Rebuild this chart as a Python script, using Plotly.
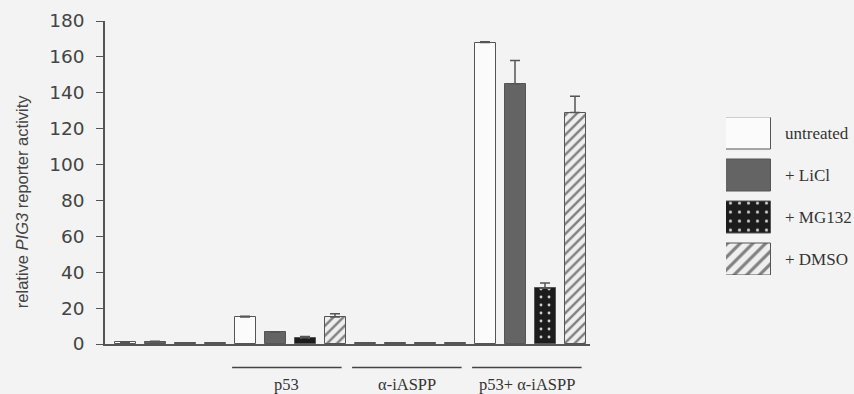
import plotly.graph_objects as go

series = ["untreated", "+ LiCl", "+ MG132", "+ DMSO"]
groups = ["", "p53", "α-iASPP", "p53+ α-iASPP"]
# values per series across the 4 groups
vals = {
    "untreated": [1.0, 15.0, 0.5, 168.0],
    "+ LiCl":    [1.2, 6.5, 0.5, 145.0],
    "+ MG132":   [0.5, 3.5, 0.5, 31.0],
    "+ DMSO":    [0.5, 15.0, 0.5, 129.0],
}
errs = {
    "untreated": [0.3, 0.5, 0.0, 0.5],
    "+ LiCl":    [0.3, 0.3, 0.0, 13.0],
    "+ MG132":   [0.0, 0.7, 0.0, 3.0],
    "+ DMSO":    [0.0, 1.8, 0.0, 9.0],
}
y_ticks = [0, 20, 40, 60, 80, 100, 120, 140, 160, 180]
y_title = "relative <i>PIG3</i> reporter activity"

styles = {
    "untreated": dict(color="#fbfbfb", pattern=None),
    "+ LiCl":    dict(color="#646464", pattern=None),
    "+ MG132":   dict(color="#1c1c1c", pattern=dict(shape=".", bgcolor="#1c1c1c", fgcolor="#cfcfcf", size=8, solidity=0.1, fillmode="replace")),
    "+ DMSO":    dict(color="#e6e6e6", pattern=dict(shape="/", bgcolor="#efefef", fgcolor="#808080", size=7, solidity=0.35, fillmode="replace")),
}

fig = go.Figure()
ns = len(series)
for si, s in enumerate(series):
    xs = [gi * ns + si for gi in range(len(groups))]
    marker = dict(color=styles[s]["color"], line=dict(color="#555555", width=1))
    if styles[s]["pattern"]:
        marker["pattern"] = styles[s]["pattern"]
    fig.add_trace(go.Bar(
        x=xs, y=vals[s], width=0.7, marker=marker, name=s, showlegend=False,
        error_y=dict(type="data", symmetric=False, array=errs[s],
                     arrayminus=[0] * len(groups), color="#555555", thickness=1.5, width=5),
        xaxis="x", yaxis="y",
    ))

# legend boxes as horizontal bars on a small side axis
leg_y = [3 - i for i in range(ns)]
for si, s in enumerate(series):
    marker = dict(color=styles[s]["color"], line=dict(color="#555555", width=1))
    if styles[s]["pattern"]:
        marker["pattern"] = dict(styles[s]["pattern"], size=9)
    fig.add_trace(go.Bar(
        x=[1], y=[leg_y[si]], orientation="h", width=0.756, marker=marker,
        showlegend=False, xaxis="x2", yaxis="y2", hoverinfo="skip",
    ))
    fig.add_annotation(x=1, y=leg_y[si], xref="x2 domain", yref="y2", text=s,
                       showarrow=False, xanchor="left", xshift=12,
                       font=dict(family="Liberation Serif", size=17, color="#333333"))

# group lines and labels
for gi, g in enumerate(groups):
    if not g:
        continue
    x0 = gi * ns - 0.43
    x1 = gi * ns + ns - 1 + 0.22
    fig.add_shape(type="line", xref="x", yref="paper", x0=x0, x1=x1,
                  y0=-0.073, y1=-0.073, line=dict(color="#444444", width=1.5))
    fig.add_annotation(x=(x0 + x1) / 2, y=-0.125, xref="x", yref="paper", text=g,
                       showarrow=False, yanchor="middle",
                       font=dict(family="Liberation Serif", size=16.5, color="#333333"))

W, H = 854, 394
L, R, T, B = 105, 10, 16, 50
pw = W - L - R
ph = H - T - B

# y-axis title as a rotated annotation (it sits lower than the axis centre)
fig.add_annotation(x=(22 - L) / pw, y=(H - B - 199) / ph, xref="paper", yref="paper",
                   text=y_title, textangle=-90, showarrow=False,
                   xanchor="center", yanchor="middle",
                   font=dict(family="Liberation Sans", size=16.5, color="#444444"))

fig.update_layout(
    width=W, height=H,
    margin=dict(l=L, r=R, t=T, b=B),
    paper_bgcolor="#f3f3f3", plot_bgcolor="rgba(0,0,0,0)",
    bargap=0,
    xaxis=dict(domain=[0, (590 - L) / pw], range=[-0.667, 15.5], showgrid=False,
               zeroline=False, showticklabels=False, ticks="",
               showline=True, linecolor="#555555", linewidth=1.5),
    yaxis=dict(range=[0, 180], tickvals=y_ticks, showgrid=False, zeroline=False,
               showline=True, linecolor="#555555", linewidth=1.5,
               ticks="outside", ticklen=7, tickcolor="#555555",
               ticklabelstandoff=8,
               tickfont=dict(family="DejaVu Sans", size=18.5, color="#444444")),
    xaxis2=dict(domain=[(726 - L) / pw, (771 - L) / pw], range=[0, 1], visible=False,
                anchor="y2"),
    yaxis2=dict(domain=[(H - B - 274) / ph, (H - B - 114) / ph], range=[-0.378, 3.378],
                visible=False, anchor="x2"),
)

fig.write_html("out.html")
